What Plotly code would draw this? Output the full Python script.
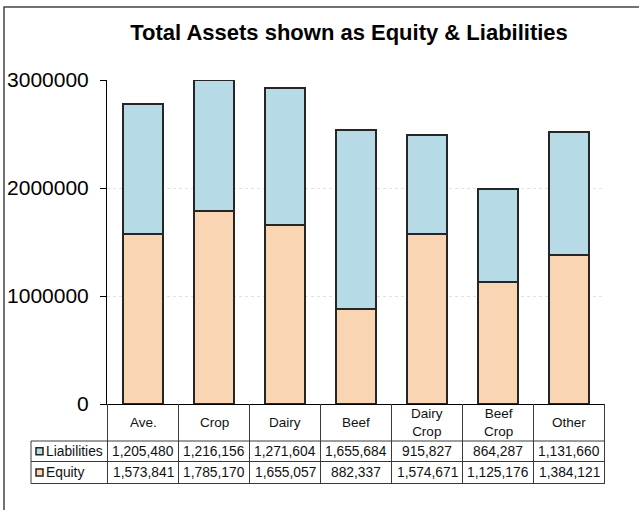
import plotly.graph_objects as go

categories = ["Ave.", "Crop", "Dairy", "Beef", "Dairy Crop", "Beef Crop", "Other"]
header_labels = ["Ave.", "Crop", "Dairy", "Beef", "Dairy<br>Crop", "Beef<br>Crop", "Other"]
liabilities = [1205480, 1216156, 1271604, 1655684, 915827, 864287, 1131660]
equity = [1573841, 1785170, 1655057, 882337, 1574671, 1125176, 1384121]
y_ticks = [0, 1000000, 2000000, 3000000]

BLUE = "#B7DBE6"
PEACH = "#F9D5B4"
EDGE = "#262626"
FONT = "Liberation Sans, Arial, sans-serif"

W, H = 639, 510
ML, MR, MT, MB = 107, 34, 80, 106
PH = H - MT - MB
PW = W - ML - MR
ZERO_Y = H - MB  # pixel of y=0


def py(pix):
    return (ZERO_Y - pix) / PH


def px(pix):
    return (pix - ML) / PW


fig = go.Figure()
fig.add_bar(x=categories, y=equity, name="Equity", marker=dict(color=PEACH, line=dict(color=EDGE, width=2)))
fig.add_bar(x=categories, y=liabilities, name="Liabilities", marker=dict(color=BLUE, line=dict(color=EDGE, width=2)))

shapes = []
annotations = []
LINE = dict(color="#3a3a3a", width=1)

# table geometry (pixels)
t_top = 441
t_mid = 461.5
t_bot = 483.5
t_left = 31

n = len(categories)
for i in range(n + 1):
    shapes.append(dict(type="line", xref="x", yref="paper", x0=i - 0.5, x1=i - 0.5,
                       y0=py(ZERO_Y), y1=py(t_bot), line=LINE))
for yy in (t_top, t_mid, t_bot):
    shapes.append(dict(type="line", xref="paper", yref="paper", x0=px(t_left), x1=1,
                       y0=py(yy), y1=py(yy), line=LINE))
shapes.append(dict(type="line", xref="paper", yref="paper", x0=px(t_left), x1=px(t_left),
                   y0=py(t_top), y1=py(t_bot), line=LINE))

for c, lab in zip(categories, header_labels):
    annotations.append(dict(x=c, xref="x", y=py((ZERO_Y + t_top) / 2), yref="paper",
                            text=lab, showarrow=False, xanchor="center", yanchor="middle",
                            font=dict(size=13.5, color="#111", family=FONT)))

rows = [("Liabilities", liabilities, BLUE, (t_top + t_mid) / 2),
        ("Equity", equity, PEACH, (t_mid + t_bot) / 2)]
for name, vals, col, yc in rows:
    for c, v in zip(categories, vals):
        annotations.append(dict(x=c, xref="x", y=py(yc), yref="paper", text=f"{v:,}",
                                showarrow=False, xanchor="center", yanchor="middle",
                                font=dict(size=13.8, color="#111", family=FONT)))
    shapes.append(dict(type="rect", xref="paper", yref="paper",
                       x0=px(36), x1=px(43), y0=py(yc + 3.5), y1=py(yc - 3.5),
                       fillcolor=col, line=dict(color="#222", width=1.5)))
    annotations.append(dict(x=px(44), xref="paper", y=py(yc), yref="paper", text=name,
                            showarrow=False, xanchor="left", yanchor="middle",
                            font=dict(size=13.8, color="#111", family=FONT)))

shapes.append(dict(type="rect", xref="paper", yref="paper", x0=px(4), x1=px(W + 20),
                   y0=py(H + 20), y1=py(7), line=dict(color="#444", width=1.5),
                   fillcolor="rgba(0,0,0,0)", layer="below"))

fig.update_layout(
    width=W, height=H,
    margin=dict(l=ML, r=MR, t=MT, b=MB, autoexpand=False),
    barmode="stack", bargap=0.44,
    plot_bgcolor="white", paper_bgcolor="white",
    showlegend=False,
    title=dict(text="<b>Total Assets shown as Equity & Liabilities</b>", x=349 / W, xanchor="center",
               y=1 - 32 / H, yanchor="middle", font=dict(size=22, color="#000", family=FONT),
               automargin=False),
    shapes=shapes, annotations=annotations,
    font=dict(family=FONT),
)
fig.update_xaxes(showticklabels=False, showline=True, linecolor="#000", linewidth=1,
                 showgrid=False, ticks="", automargin=False)
fig.update_yaxes(range=[0, 3000000], tickvals=y_ticks, ticktext=[str(v) for v in y_ticks],
                 showline=True, linecolor="#000", linewidth=1, ticks="outside", ticklen=6,
                 tickcolor="#000", tickfont=dict(size=21, color="#000", family=FONT),
                 showgrid=True, gridcolor="#e2e2e2", griddash="dot", zeroline=False,
                 ticklabelstandoff=7, automargin=False)

fig.write_html("out.html", config={"displayModeBar": False},
               post_script="document.body.style.margin='0';")
